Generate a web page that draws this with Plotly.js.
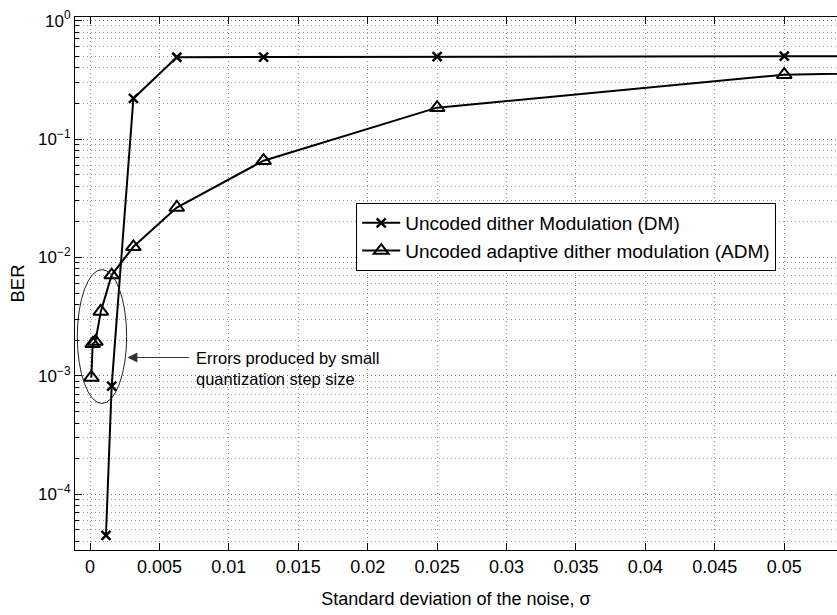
<!DOCTYPE html>
<html>
<head>
<meta charset="utf-8">
<script src="https://cdn.plot.ly/plotly-3.0.1.min.js"></script>
<style>html,body{margin:0;padding:0;background:#fff;}#chart{width:837px;height:615px;}</style>
</head>
<body>
<div id="chart"></div>
<script>
// Data
var dmSigma = [0.00115, 0.00156, 0.003125, 0.00625, 0.0125, 0.025, 0.05, 0.1];
var dmBER   = [4.5e-5, 8.2e-4, 0.22, 0.49, 0.492, 0.495, 0.5, 0.5];

var admSigma = [0.0000977, 0.000195, 0.000391, 0.000781, 0.00156, 0.003125, 0.00625, 0.0125, 0.025, 0.05, 0.1];
var admBER   = [9.7e-4, 1.87e-3, 1.95e-3, 3.5e-3, 7.1e-3, 0.0123, 0.0264, 0.0656, 0.184, 0.349, 0.45];

var seriesNames = ['Uncoded dither Modulation (DM)', 'Uncoded adaptive dither modulation (ADM)'];
var yTickVals = [1e-4, 1e-3, 1e-2, 1e-1, 1];
var yTickText = ['10<sup>\u22124</sup>', '10<sup>\u22123</sup>', '10<sup>\u22122</sup>', '10<sup>\u22121</sup>', '10<sup>0</sup>'];
var xTitle = 'Standard deviation of the noise, \u03c3';
var yTitle = 'BER';
var noteText = 'Errors produced by small<br>quantization step size';

var minorVals = [];
for (var e = -5; e <= 0; e++) {
  for (var m = 2; m <= 9; m++) minorVals.push(m * Math.pow(10, e));
}

var FONT = 'Liberation Sans, Arial, Helvetica, sans-serif';

var traces = [
  {
    x: dmSigma, y: dmBER, name: seriesNames[0], type: 'scatter', mode: 'lines+markers',
    line: {color: '#000', width: 2},
    marker: {symbol: 'x-thin', size: 9, color: '#000', line: {color: '#000', width: 2.5}}
  },
  {
    x: admSigma, y: admBER, name: seriesNames[1], type: 'scatter', mode: 'lines+markers',
    line: {color: '#000', width: 2},
    marker: {symbol: 'triangle-up-open', size: 13, color: '#000', line: {color: '#000', width: 2}}
  }
];

var layout = {
  width: 837, height: 615,
  margin: {l: 75, r: 0, t: 17, b: 65, pad: 0},
  paper_bgcolor: '#fff', plot_bgcolor: '#fff',
  font: {family: FONT, color: '#000', size: 18},
  showlegend: true,
  xaxis: {
    range: [-0.00108, 0.0538],
    tick0: 0, dtick: 0.005,
    ticks: 'inside', ticklen: 7, tickwidth: 1, tickcolor: '#000',
    showline: true, linecolor: '#000', linewidth: 1, mirror: 'ticks',
    showgrid: true, gridcolor: '#888', gridwidth: 1, griddash: '1px,3px',
    zeroline: false,
    tickfont: {family: FONT, size: 18, color: '#000'},
    title: {text: xTitle, font: {family: FONT, size: 18, color: '#000'}, standoff: 16}
  },
  yaxis: {
    type: 'log',
    range: [-4.47, 0.03],
    tickmode: 'array', tickvals: yTickVals, ticktext: yTickText,
    ticks: 'inside', ticklen: 7, tickwidth: 1, tickcolor: '#000',
    showline: true, linecolor: '#000', linewidth: 1, mirror: false,
    showgrid: true, gridcolor: '#777', gridwidth: 1, griddash: '1px,3px',
    zeroline: false,
    minor: {tickmode: 'array', tickvals: minorVals, ticks: 'inside', ticklen: 4, tickcolor: '#000',
            showgrid: true, gridcolor: '#999', gridwidth: 1, griddash: '1px,3px'},
    tickfont: {family: FONT, size: 17, color: '#000'},
    title: {text: yTitle, font: {family: FONT, size: 18.5, color: '#000'}, standoff: 8}
  },
  legend: {
    x: 0.369, y: 0.651, xanchor: 'left', yanchor: 'top',
    bgcolor: '#fff', bordercolor: '#000', borderwidth: 1,
    font: {family: FONT, size: 19, color: '#000'},
    itemwidth: 38,
    tracegroupgap: 0
  },
  shapes: [
    {type: 'circle', xref: 'x', yref: 'y', x0: -0.000915, x1: 0.00264, y0: 5.85e-4, y1: 7.9e-3,
     line: {color: '#222', width: 1}}
  ],
  annotations: [
    {xref: 'x', yref: 'y', x: 0.00269, y: Math.log10(1.43e-3), text: '', showarrow: true,
     axref: 'pixel', ayref: 'pixel', ax: 63, ay: 0,
     arrowhead: 2, arrowsize: 2, arrowwidth: 1, arrowcolor: '#333', standoff: 0},
    {xref: 'x', yref: 'y', x: 0.0075, y: Math.log10(1.15e-3), text: noteText, showarrow: false,
     xanchor: 'left', yanchor: 'middle', align: 'left',
     font: {family: FONT, size: 16.5, color: '#000'}}
  ]
};

Plotly.newPlot('chart', traces, layout, {displayModeBar: false, staticPlot: true});
</script>
</body>
</html>
